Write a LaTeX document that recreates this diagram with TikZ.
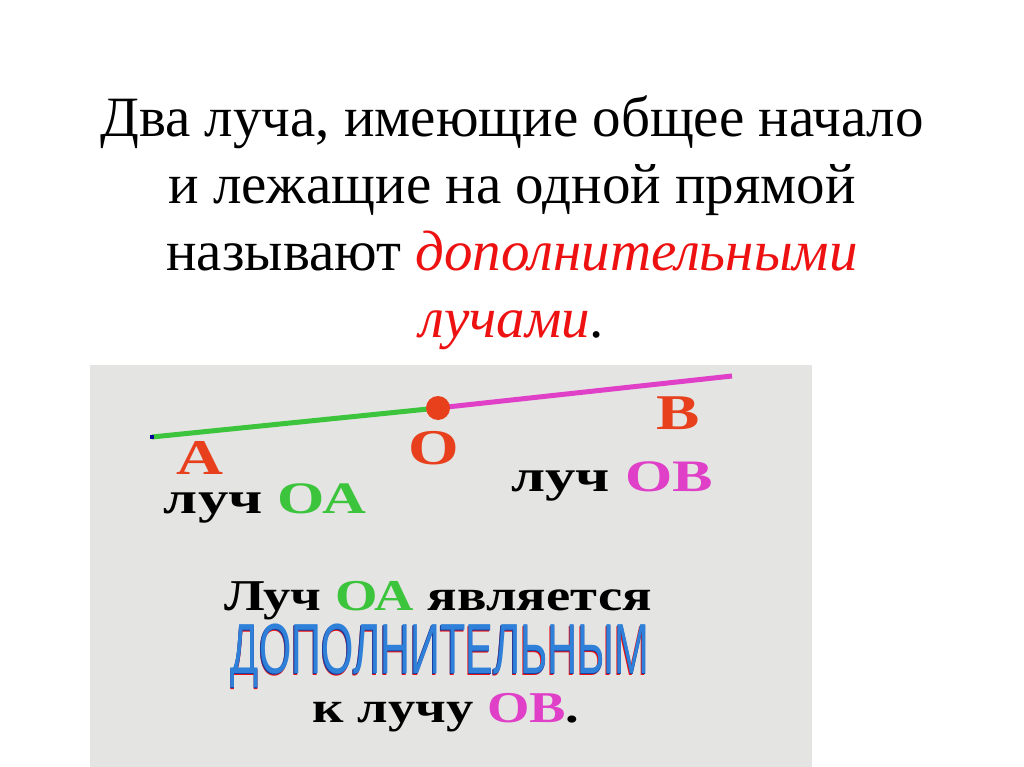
\documentclass[tikz,border=0pt]{standalone}
\usepackage{fontspec}
\setmainfont{Liberation Serif}
\newfontfamily\wordart{Liberation Sans}
\definecolor{rayred}{HTML}{E8401C}
\definecolor{raygreen}{HTML}{3CC43C}
\definecolor{raymag}{HTML}{E040C8}
\definecolor{boxgray}{HTML}{E4E4E2}
\definecolor{waBlue}{HTML}{2E80D8}
\definecolor{waDark}{HTML}{1A3FA0}
\definecolor{titlered}{HTML}{EE1111}
\newcommand{\wordartword}[1]{%
  \makebox[0pt][l]{\hspace{-1.5pt}\raisebox{-2pt}{\textcolor{titlered}{#1}}}%
  \makebox[0pt][l]{\hspace{-0.8pt}\raisebox{-1pt}{\textcolor{waDark}{#1}}}%
  \textcolor{waBlue}{#1}}
\tikzset{
  title/.style={font=\fontsize{57}{67}\selectfont, align=center, text=black},
  letter/.style={font=\fontsize{50}{50}\selectfont\bfseries, text=rayred, xscale=1.3, inner sep=0pt},
  raylabel/.style={font=\fontsize{45}{45}\selectfont\bfseries, text=black, xscale=1.35, inner sep=0pt},
  boxtext/.style={font=\fontsize{44}{44}\selectfont\bfseries, text=black, xscale=1.24, inner sep=0pt},
  wa/.style={font=\wordart\fontsize{71}{71}\selectfont, xscale=0.585, inner sep=0pt},
}
\begin{document}
\begin{tikzpicture}[x=1pt,y=-1pt]
\useasboundingbox (0,0) rectangle (1024,767);
\fill[white] (0,0) rectangle (1024,767);
\fill[boxgray] (90,365) rectangle (812,767);
\node[title] (t) at (512,223) {Два луча, имеющие общее начало\\и лежащие на одной прямой\\называют \textcolor{titlered}{\itshape дополнительными}\\\textcolor{titlered}{\itshape лучами}.};
\coordinate (A) at (152,437);
\coordinate (O) at (438,408);
\coordinate (B) at (732,376);
\draw[raygreen, line width=5pt] (A) -- (O);
\draw[raymag, line width=5pt] (O) -- (B);
\fill[blue!60!black] (A) ++(-2,-2) rectangle ++(4,4);
\fill[rayred] (O) circle (12pt);
\node[letter] (la) at (200,458) {A};
\node[letter] (lo) at (434,448) {O};
\node[letter] (lb) at (678,413) {B};
\node[raylabel] (roa) at (265,503) {луч \textcolor{raygreen}{ОА}};
\node[raylabel] (rob) at (612,481) {луч \textcolor{raymag}{ОВ}};
\node[boxtext] (s1) at (438,601) {Луч \textcolor{raygreen}{ОА} является};
\node[wa] (s2) at (440,657) {\wordartword{ДОПОЛНИТЕЛЬНЫМ}};
\node[boxtext] (s3) at (446,713) {к лучу \textcolor{raymag}{ОВ}.};
\end{tikzpicture}
\end{document}
